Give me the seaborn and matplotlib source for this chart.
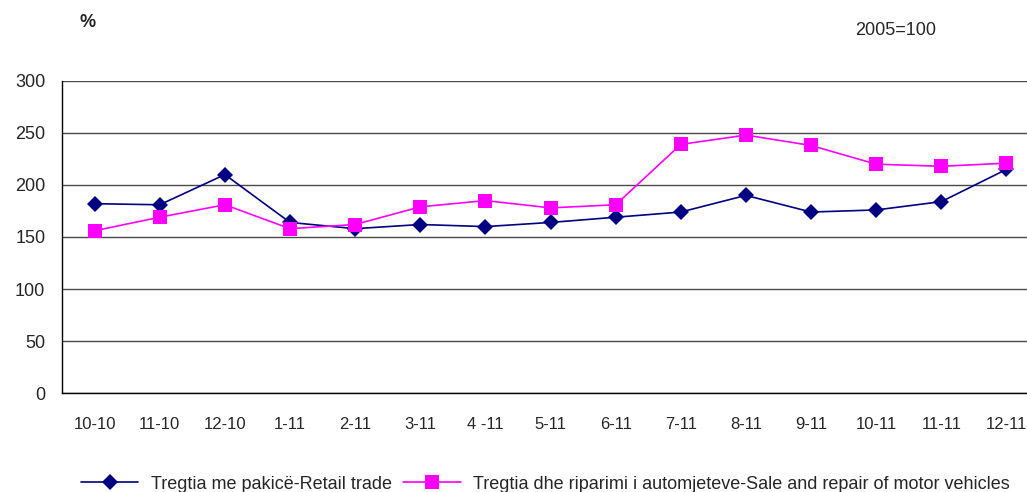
import pandas as pd
import matplotlib.pyplot as plt
import seaborn as sns
from matplotlib.colors import to_hex

# Data
months = ["10-10", "11-10", "12-10", "1-11", "2-11", "3-11", "4 -11", "5-11",
          "6-11", "7-11", "8-11", "9-11", "10-11", "11-11", "12-11"]
retail = [182, 181, 210, 164, 158, 162, 160, 164, 169, 174, 190, 174, 176, 184, 215]
motor = [156, 169, 181, 158, 162, 179, 185, 178, 181, 239, 248, 238, 220, 218, 221]

name_retail = "Tregtia me pakicë-Retail trade"
name_motor = "Tregtia dhe riparimi i automjeteve-Sale and repair of motor vehicles"

df = pd.DataFrame({
    "pos": list(range(len(months))) * 2,
    "value": retail + motor,
    "series": [name_retail] * len(months) + [name_motor] * len(months),
})

sns.set_style("white")
plt.rcParams["font.family"] = ["Liberation Sans", "DejaVu Sans"]

fig = plt.figure(figsize=(10.27, 4.92), dpi=100)
ax = fig.add_axes([0.0604, 0.2012, 0.9513, 0.6342])

sns.lineplot(data=df, x="pos", y="value", hue="series", style="series",
             palette={name_retail: "#000080", name_motor: "#FF00FF"},
             markers={name_retail: "D", name_motor: "s"},
             dashes=False, linewidth=1.2, markeredgewidth=0,
             legend=False, ax=ax)

# marker sizes differ per series
sizes = {"#000080": 8.5, "#FF00FF": 10}
for ln in ax.lines:
    ln.set_markersize(sizes.get(to_hex(ln.get_color()).upper(), 9))

ax.set_xlim(-0.5, len(months) - 0.5)
ax.set_ylim(0, 300)
ax.set_yticks(range(0, 301, 50))
ax.yaxis.grid(True, color="#4a4a4a", linewidth=1)
ax.set_axisbelow(True)

ax.set_xticks(range(len(months)))
ax.set_xticklabels(months, fontsize=12)
ax.set_xticks([i - 0.5 for i in range(len(months) + 1)], minor=True)
ax.tick_params(axis="x", which="major", length=0, pad=17)
ax.tick_params(axis="x", which="minor", length=5, width=1, color="black", direction="out")
ax.tick_params(axis="y", length=5, width=1, color="black", direction="out", labelsize=13, pad=7)
ax.set_xlabel("")
ax.set_ylabel("")

for s in ["top", "right"]:
    ax.spines[s].set_visible(False)
for s in ["left", "bottom"]:
    ax.spines[s].set_color("black")
    ax.spines[s].set_linewidth(1)

fig.text(0.077, 0.955, "%", fontsize=13, fontweight="bold", ha="left", va="center")
fig.text(0.872, 0.937, "2005=100", fontsize=13, ha="center", va="center",
         family=["Liberation Sans Narrow", "Liberation Sans", "DejaVu Sans"])

# legend handles built from the plotted lines
handles = []
for ln, lab in zip(ax.lines, [name_retail, name_motor]):
    h = plt.Line2D([], [], color=ln.get_color(), marker=ln.get_marker(),
                   markersize=ln.get_markersize(), markeredgewidth=0,
                   linewidth=1.2, label=lab)
    handles.append(h)
fig.legend(handles=handles, loc="center", bbox_to_anchor=(0.531, 0.016),
           ncol=2, frameon=False, fontsize=13, handlelength=3.2,
           columnspacing=0.6, handletextpad=0.7, borderaxespad=0, borderpad=0)

fig.savefig("out.png", dpi=100)
